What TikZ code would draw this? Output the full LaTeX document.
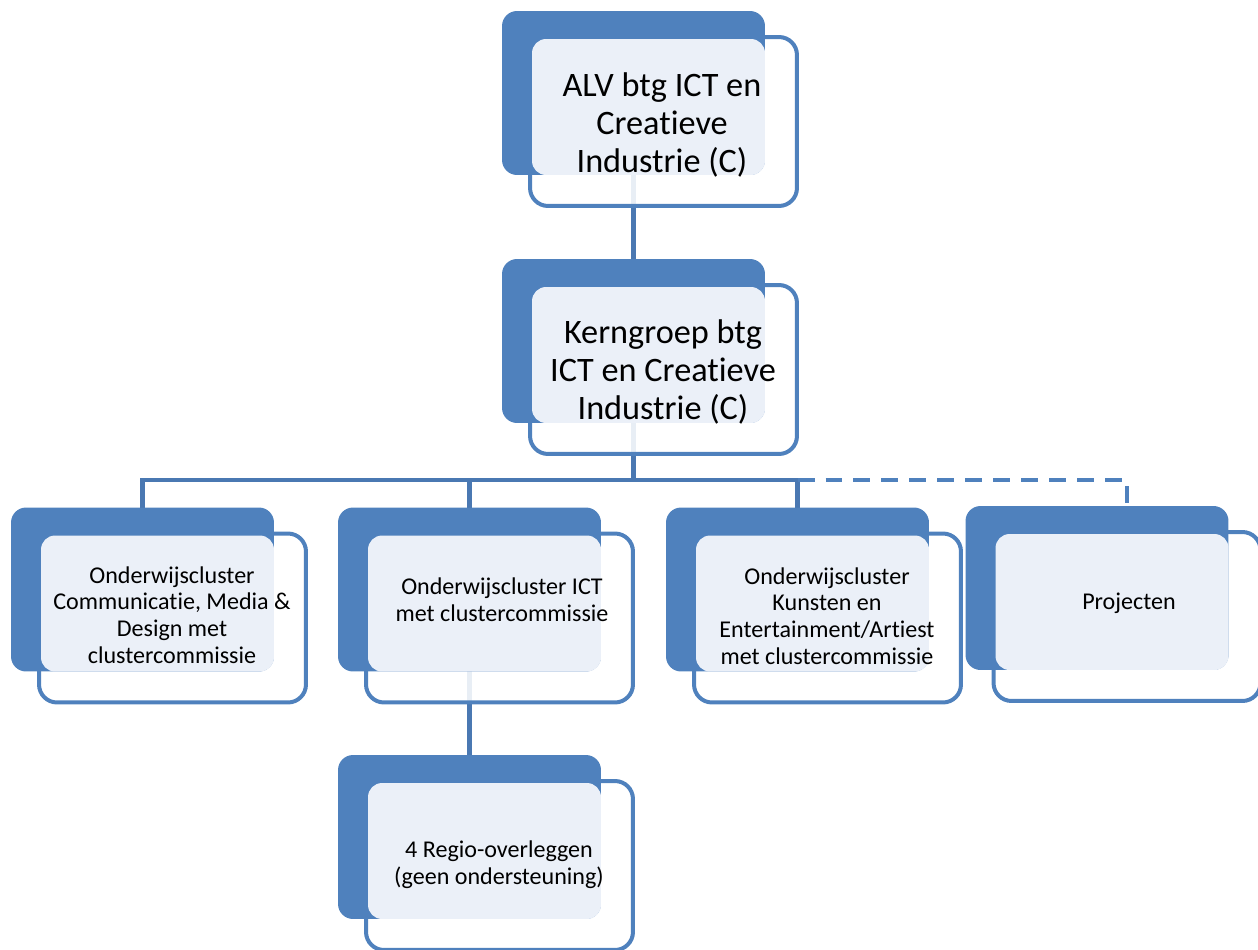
\documentclass[tikz,border=0pt]{standalone}
\usepackage{fontspec}
\setmainfont{Carlito}[Ligatures=NoCommon]
\usetikzlibrary{backgrounds}
\definecolor{smblue}{HTML}{4F81BD}
\definecolor{smline}{HTML}{4A78B2}
\definecolor{smlight}{HTML}{EBF0F8}
\begin{document}
\begin{tikzpicture}
	[	x=0.02cm,y=-0.02cm,
	back/.style={rectangle,rounded corners=0.3cm,fill=smblue,minimum width=5.26cm,minimum height=3.28cm,inner sep=0,outer sep=0},
	front/.style={rectangle,rounded corners=0.36cm,draw=smblue,line width=0.08cm,fill=white,fill opacity=0.88,minimum width=5.34cm,minimum height=3.38cm,inner sep=0,outer sep=0},
	inner/.style={fill=smlight,rounded corners=0.28cm},
	big/.style={align=center,font=\fontsize{19.5}{21.6}\selectfont},
	small/.style={align=center,font=\fontsize{13.7}{15.2}\selectfont},
	conn/.style={draw=smline,line width=0.095cm},
	dashconn/.style={draw=smblue,line width=0.08cm,dash pattern=on 0.34cm off 0.22cm}
	]
	\clip (0,0) rectangle (1258,950);
	\node[front] (alv-f) at (663.5,121.5){};
	\node[back] (alv) at (633.5,93){};
	\fill[inner] ([shift={(2,2)}]alv-f.north west) rectangle (alv.south east);
	\node[big] (alv-t) at (662,125){ALV btg ICT en\\Creatieve\\Industrie (C)};
	\node[front] (kern-f) at (663.5,369.5){};
	\node[back] (kern) at (633.5,341){};
	\fill[inner] ([shift={(2,2)}]kern-f.north west) rectangle (kern.south east);
	\node[big] (kern-t) at (663,372){Kerngroep btg\\ICT en Creatieve\\Industrie (C)};
	\node[front] (cmd-f) at (172.5,618){};
	\node[back] (cmd) at (142.5,589.5){};
	\fill[inner] ([shift={(2,2)}]cmd-f.north west) rectangle (cmd.south east);
	\node[small] (cmd-t) at (172,615){Onderwijscluster\\Communicatie, Media \&\\Design met\\clustercommissie};
	\node[front] (ict-f) at (499.5,618){};
	\node[back] (ict) at (469.5,589.5){};
	\fill[inner] ([shift={(2,2)}]ict-f.north west) rectangle (ict.south east);
	\node[small] (ict-t) at (502,600){Onderwijscluster ICT\\met clustercommissie};
	\node[front] (kek-f) at (827.5,618){};
	\node[back] (kek) at (797.5,589.5){};
	\fill[inner] ([shift={(2,2)}]kek-f.north west) rectangle (kek.south east);
	\node[small] (kek-t) at (827,616){Onderwijscluster\\Kunsten en\\Entertainment/Artiest\\met clustercommissie};
	\node[front] (proj-f) at (1127,616.5){};
	\node[back] (proj) at (1097,588){};
	\fill[inner] ([shift={(2,2)}]proj-f.north west) rectangle (proj.south east);
	\node[small] (proj-t) at (1129,603){Projecten};
	\node[front] (regio-f) at (499.5,865.5){};
	\node[back] (regio) at (469.5,837){};
	\fill[inner] ([shift={(2,2)}]regio-f.north west) rectangle (regio.south east);
	\node[small] (regio-t) at (499,865){4 Regio-overleggen\\(geen ondersteuning)};
	\coordinate (bar) at (633.5,480);
	\begin{pgfonlayer}{background}
		\draw[conn] (alv.south) -- (kern.north);
		\draw[conn] (kern.south) -- (bar);
		\draw[conn] (cmd.north) |- (bar) -| (kek.north);
		\draw[conn] (ict.north) -- (ict.north |- bar);
		\draw[dashconn] (kek.north |- bar) -| (proj-f.north);
		\draw[conn] (ict.south) -- (regio.north);
	\end{pgfonlayer}
\end{tikzpicture}
\end{document}
